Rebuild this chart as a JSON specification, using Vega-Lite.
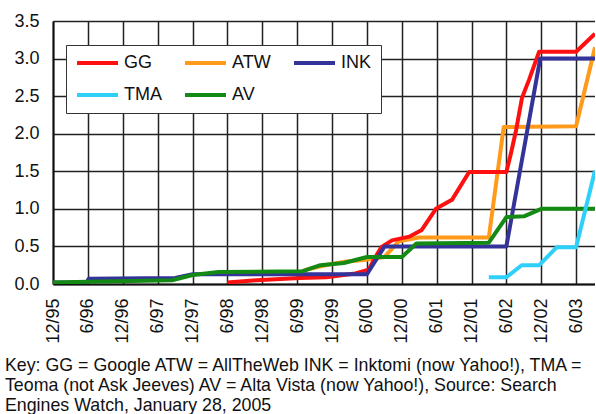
{
  "$schema": "https://vega.github.io/schema/vega-lite/v6.json",
  "width": 542,
  "height": 263,
  "padding": {"left": 4, "top": 12, "right": 0, "bottom": 2},
  "background": "white",
  "title": {
    "text": [
      "Key: GG = Google ATW = AllTheWeb INK = Inktomi (now Yahoo!), TMA =",
      "Teoma (not Ask Jeeves) AV = Alta Vista (now Yahoo!), Source: Search",
      "Engines Watch, January 28, 2005"
    ],
    "orient": "bottom",
    "anchor": "start",
    "frame": "bounds",
    "dx": -9,
    "offset": 14,
    "font": "Liberation Sans",
    "fontSize": 17.8,
    "fontWeight": "normal",
    "lineHeight": 20,
    "color": "#111"
  },
  "data": {
    "values": [
      {"engine": "ATW", "date": "1999-06-01", "value": 0.14},
      {"engine": "ATW", "date": "1999-08-01", "value": 0.2},
      {"engine": "ATW", "date": "1999-11-15", "value": 0.26},
      {"engine": "ATW", "date": "2000-02-15", "value": 0.3},
      {"engine": "ATW", "date": "2000-05-15", "value": 0.32},
      {"engine": "ATW", "date": "2000-09-01", "value": 0.36},
      {"engine": "ATW", "date": "2000-11-15", "value": 0.57},
      {"engine": "ATW", "date": "2001-03-01", "value": 0.62},
      {"engine": "ATW", "date": "2002-03-01", "value": 0.62},
      {"engine": "ATW", "date": "2002-05-18", "value": 2.09},
      {"engine": "ATW", "date": "2003-06-01", "value": 2.1},
      {"engine": "ATW", "date": "2003-09-08", "value": 3.15},

      {"engine": "GG", "date": "1998-06-01", "value": 0.02},
      {"engine": "GG", "date": "1998-11-01", "value": 0.05},
      {"engine": "GG", "date": "1999-06-15", "value": 0.08},
      {"engine": "GG", "date": "1999-11-01", "value": 0.09},
      {"engine": "GG", "date": "2000-04-01", "value": 0.14},
      {"engine": "GG", "date": "2000-06-10", "value": 0.19},
      {"engine": "GG", "date": "2000-07-15", "value": 0.36},
      {"engine": "GG", "date": "2000-08-15", "value": 0.49},
      {"engine": "GG", "date": "2000-10-10", "value": 0.58},
      {"engine": "GG", "date": "2001-01-08", "value": 0.63},
      {"engine": "GG", "date": "2001-03-15", "value": 0.72},
      {"engine": "GG", "date": "2001-05-28", "value": 1.0},
      {"engine": "GG", "date": "2001-08-20", "value": 1.12},
      {"engine": "GG", "date": "2001-11-18", "value": 1.49},
      {"engine": "GG", "date": "2002-06-01", "value": 1.49},
      {"engine": "GG", "date": "2002-06-25", "value": 1.74},
      {"engine": "GG", "date": "2002-07-22", "value": 2.05},
      {"engine": "GG", "date": "2002-08-22", "value": 2.48},
      {"engine": "GG", "date": "2002-09-28", "value": 2.72},
      {"engine": "GG", "date": "2002-11-19", "value": 3.09},
      {"engine": "GG", "date": "2003-06-01", "value": 3.09},
      {"engine": "GG", "date": "2003-09-08", "value": 3.33},

      {"engine": "INK", "date": "1995-12-01", "value": 0.02},
      {"engine": "INK", "date": "1996-05-25", "value": 0.02},
      {"engine": "INK", "date": "1996-06-05", "value": 0.07},
      {"engine": "INK", "date": "1997-09-01", "value": 0.08},
      {"engine": "INK", "date": "1997-12-01", "value": 0.13},
      {"engine": "INK", "date": "2000-06-01", "value": 0.13},
      {"engine": "INK", "date": "2000-09-01", "value": 0.5},
      {"engine": "INK", "date": "2002-06-01", "value": 0.5},
      {"engine": "INK", "date": "2002-11-25", "value": 3.0},
      {"engine": "INK", "date": "2003-09-08", "value": 3.0},

      {"engine": "AV", "date": "1995-12-01", "value": 0.02},
      {"engine": "AV", "date": "1996-06-01", "value": 0.03},
      {"engine": "AV", "date": "1997-08-15", "value": 0.05},
      {"engine": "AV", "date": "1997-12-01", "value": 0.12},
      {"engine": "AV", "date": "1998-04-15", "value": 0.16},
      {"engine": "AV", "date": "1999-07-01", "value": 0.17},
      {"engine": "AV", "date": "1999-10-01", "value": 0.25},
      {"engine": "AV", "date": "2000-02-01", "value": 0.28},
      {"engine": "AV", "date": "2000-06-01", "value": 0.36},
      {"engine": "AV", "date": "2000-12-01", "value": 0.36},
      {"engine": "AV", "date": "2001-02-15", "value": 0.54},
      {"engine": "AV", "date": "2002-03-01", "value": 0.55},
      {"engine": "AV", "date": "2002-06-01", "value": 0.89},
      {"engine": "AV", "date": "2002-09-01", "value": 0.9},
      {"engine": "AV", "date": "2002-12-01", "value": 1.0},
      {"engine": "AV", "date": "2003-09-08", "value": 1.0},

      {"engine": "TMA", "date": "2002-03-01", "value": 0.09},
      {"engine": "TMA", "date": "2002-06-01", "value": 0.09},
      {"engine": "TMA", "date": "2002-08-20", "value": 0.25},
      {"engine": "TMA", "date": "2002-11-20", "value": 0.25},
      {"engine": "TMA", "date": "2003-02-20", "value": 0.49},
      {"engine": "TMA", "date": "2003-06-01", "value": 0.49},
      {"engine": "TMA", "date": "2003-09-08", "value": 1.51}
    ]
  },
  "mark": {"type": "line", "strokeWidth": 4, "clip": true, "strokeJoin": "round"},
  "encoding": {
    "x": {
      "field": "date",
      "type": "temporal",
      "scale": {
        "type": "utc",
        "domain": [
          {"year": 1995, "month": "dec", "date": 1, "utc": true},
          {"year": 2003, "month": "sep", "date": 8, "utc": true}
        ]
      },
      "axis": {
        "title": null,
        "values": [
          {"year": 1995, "month": "dec", "date": 1, "utc": true},
          {"year": 1996, "month": "jun", "date": 1, "utc": true},
          {"year": 1996, "month": "dec", "date": 1, "utc": true},
          {"year": 1997, "month": "jun", "date": 1, "utc": true},
          {"year": 1997, "month": "dec", "date": 1, "utc": true},
          {"year": 1998, "month": "jun", "date": 1, "utc": true},
          {"year": 1998, "month": "dec", "date": 1, "utc": true},
          {"year": 1999, "month": "jun", "date": 1, "utc": true},
          {"year": 1999, "month": "dec", "date": 1, "utc": true},
          {"year": 2000, "month": "jun", "date": 1, "utc": true},
          {"year": 2000, "month": "dec", "date": 1, "utc": true},
          {"year": 2001, "month": "jun", "date": 1, "utc": true},
          {"year": 2001, "month": "dec", "date": 1, "utc": true},
          {"year": 2002, "month": "jun", "date": 1, "utc": true},
          {"year": 2002, "month": "dec", "date": 1, "utc": true},
          {"year": 2003, "month": "jun", "date": 1, "utc": true}
        ],
        "format": "%-m/%y",
        "labelAngle": 270,
        "labelPadding": 14,
        "labelOverlap": false,
        "ticks": false
      }
    },
    "y": {
      "field": "value",
      "type": "quantitative",
      "scale": {"domain": [0, 3.5], "nice": false},
      "axis": {
        "title": null,
        "values": [0, 0.5, 1, 1.5, 2, 2.5, 3, 3.5],
        "format": ".1f",
        "labelPadding": 14,
        "ticks": false
      }
    },
    "color": {
      "field": "engine",
      "type": "nominal",
      "scale": {
        "domain": ["GG", "ATW", "INK", "TMA", "AV"],
        "range": ["#ff1010", "#ff9a1a", "#33339a", "#2ed0fa", "#138a13"]
      },
      "legend": {
        "title": null,
        "orient": "none",
        "legendX": 13,
        "legendY": 24,
        "direction": "horizontal",
        "columns": 3,
        "symbolType": "stroke",
        "symbolSize": 1681,
        "symbolStrokeWidth": 4,
        "clipHeight": 18,
        "labelFont": "Liberation Sans",
        "labelFontSize": 18,
        "labelColor": "#111",
        "labelOffset": 4,
        "padding": 9,
        "columnPadding": 21,
        "rowPadding": 14,
        "strokeColor": "#333",
        "fillColor": "white"
      }
    }
  },
  "config": {
    "view": {"stroke": null},
    "axis": {
      "labelFont": "Liberation Sans",
      "labelFontSize": 18,
      "labelColor": "#111",
      "domainColor": "#111",
      "domainWidth": 2,
      "gridColor": "#222",
      "gridWidth": 1.5,
      "gridOpacity": 1
    }
  }
}
